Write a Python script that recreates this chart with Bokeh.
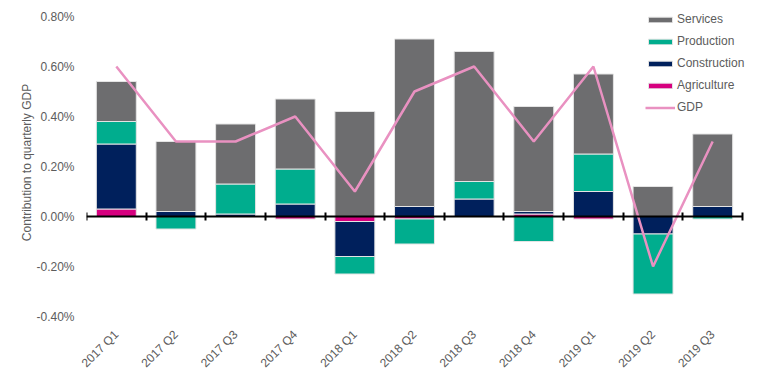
import numpy as np
from bokeh.plotting import figure
from bokeh.models import (ColumnDataSource, Range1d, FixedTicker, LinearAxis,
                          PrintfTickFormatter, CustomJSTickFormatter, Legend, LegendItem)
from bokeh.embed import file_html
from bokeh.resources import INLINE

quarters = ["2017 Q1", "2017 Q2", "2017 Q3", "2017 Q4", "2018 Q1", "2018 Q2",
            "2018 Q3", "2018 Q4", "2019 Q1", "2019 Q2", "2019 Q3"]
agriculture = [0.03, 0.00, 0.00, -0.01, -0.02, -0.01, 0.00, 0.01, -0.01, 0.00, 0.00]
construction = [0.26, 0.02, 0.01, 0.05, -0.14, 0.04, 0.07, 0.01, 0.10, -0.07, 0.04]
production = [0.09, -0.05, 0.12, 0.14, -0.07, -0.10, 0.07, -0.10, 0.15, -0.24, -0.01]
services = [0.16, 0.28, 0.24, 0.28, 0.42, 0.67, 0.52, 0.42, 0.32, 0.12, 0.29]
gdp = [0.60, 0.30, 0.30, 0.40, 0.10, 0.50, 0.60, 0.30, 0.60, -0.20, 0.30]
y_ticks = [-0.4, -0.2, 0.0, 0.2, 0.4, 0.6, 0.8]

series = [("Agriculture", agriculture, "#d6007f"),
          ("Construction", construction, "#00205c"),
          ("Production", production, "#00ad8e"),
          ("Services", services, "#6d6d6f")]

n = len(quarters)
xc = np.arange(n) + 0.5

TEXT = "#5c5c5c"
FONT = "Liberation Sans"

p = figure(frame_width=660, frame_height=308, output_backend="svg", toolbar_location=None,
           x_range=Range1d(0, 11.067), y_range=Range1d(-0.4, 0.832),
           min_border_left=86, min_border_right=3, min_border_top=8, min_border_bottom=10)
p.outline_line_color = None
p.xgrid.grid_line_color = None
p.ygrid.grid_line_color = None
p.background_fill_color = "white"
p.border_fill_color = "white"

pos_base = np.zeros(n)
neg_base = np.zeros(n)
renderers = {}
for name, vals, color in series:
    v = np.array(vals, dtype=float)
    bottom = np.where(v >= 0, pos_base, neg_base)
    top = bottom + v
    pos_base = np.where(v >= 0, top, pos_base)
    neg_base = np.where(v < 0, top, neg_base)
    src = ColumnDataSource(dict(x=xc, top=top, bottom=bottom))
    r = p.vbar(x="x", top="top", bottom="bottom", width=0.67, source=src,
               fill_color=color, line_color="#e4e4e4", line_width=1)
    renderers[name] = r

gsrc = ColumnDataSource(dict(x=xc, y=gdp))
gl = p.line(x="x", y="y", source=gsrc, line_color="#e991c1", line_width=2.5)

# y axis
ya = p.yaxis[0]
ya.ticker = FixedTicker(ticks=y_ticks)
ya.formatter = PrintfTickFormatter(format="%.2f%%")
ya.axis_line_color = None
ya.major_tick_line_color = None
ya.minor_tick_line_color = None
ya.major_tick_out = 0
ya.major_tick_in = 0
ya.major_label_standoff = 12
ya.major_label_text_font = FONT
ya.major_label_text_font_size = "12px"
ya.major_label_text_color = TEXT
ya.axis_label = "Contribution to quarterly GDP"
ya.axis_label_text_font = FONT
ya.axis_label_text_font_size = "12px"
ya.axis_label_text_font_style = "normal"
ya.axis_label_text_color = TEXT
ya.axis_label_standoff = -1

# x axis (labels only)
xa = p.xaxis[0]
xa.ticker = FixedTicker(ticks=list(xc))
xa.formatter = CustomJSTickFormatter(args=dict(labels=quarters),
                                     code="return labels[Math.floor(tick)] || '';")
xa.axis_line_color = None
xa.major_tick_line_color = None
xa.minor_tick_line_color = None
xa.major_tick_out = 0
xa.major_tick_in = 0
xa.major_label_orientation = np.pi / 4
xa.major_label_standoff = 16
xa.major_label_text_font = FONT
xa.major_label_text_font_size = "12px"
xa.major_label_text_color = TEXT

# zero axis line with boundary ticks
za = LinearAxis(fixed_location=0, ticker=FixedTicker(ticks=list(range(n + 1))),
                bounds=(0, n),
                axis_line_color="black", axis_line_width=2,
                major_tick_line_color="black", major_tick_line_width=2,
                major_tick_in=4, major_tick_out=4, major_label_standoff=0,
                minor_tick_line_color=None,
                major_label_text_font_size="0px", major_label_text_color=None)
p.add_layout(za, "below")

legend = Legend(items=[LegendItem(label="Services", renderers=[renderers["Services"]]),
                       LegendItem(label="Production", renderers=[renderers["Production"]]),
                       LegendItem(label="Construction", renderers=[renderers["Construction"]]),
                       LegendItem(label="Agriculture", renderers=[renderers["Agriculture"]]),
                       LegendItem(label="GDP", renderers=[gl])],
                location=(559, 199), orientation="vertical",
                glyph_width=30, glyph_height=7, label_standoff=2,
                label_height=20, spacing=2, padding=0, margin=0,
                label_text_font=FONT, label_text_font_size="12px",
                label_text_color=TEXT, border_line_color=None,
                background_fill_alpha=0)
p.add_layout(legend, "center")

open("out.html", "w").write(file_html(p, INLINE))
